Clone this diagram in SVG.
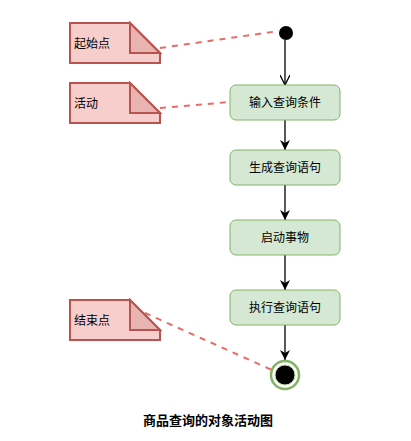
<svg xmlns="http://www.w3.org/2000/svg" width="411" height="441" viewBox="0 0 411 441">
<style>
text{font-family:"Liberation Sans","Noto Sans CJK SC",sans-serif;font-size:12px;fill:#000}
.note{fill:#f8cecc;stroke:#b85450;stroke-width:2}
.fold{fill:#e8b4b2;stroke:#b85450;stroke-width:2}
.act{fill:#d5e8d4;stroke:#82b366;stroke-width:1}
.dash{stroke:#ea6b66;stroke-width:2;stroke-dasharray:6 6;fill:none}
.flow{stroke:#000;stroke-width:1.3;fill:none}
</style>
<defs>
<marker id="open" viewBox="0 0 10 10" refX="10" refY="5" markerWidth="10" markerHeight="10" markerUnits="userSpaceOnUse" orient="auto"><path d="M0,0 L10,5 L0,10" fill="none" stroke="#000" stroke-width="1.3"/></marker>
<marker id="fill" viewBox="0 0 10 10" refX="10" refY="5" markerWidth="10" markerHeight="10" markerUnits="userSpaceOnUse" orient="auto"><path d="M0,0 L10,5 L0,10 L3,5 Z" fill="#000"/></marker>
</defs>
<g id="connectors">
<line class="dash" x1="160" y1="48" x2="279" y2="31"/>
<line class="dash" x1="160" y1="108" x2="230" y2="102"/>
<line class="dash" x1="145" y1="313" x2="272" y2="370"/>
<line class="flow" x1="285" y1="40" x2="285" y2="85" marker-end="url(#open)"/>
<line class="flow" x1="285" y1="120" x2="285" y2="150" marker-end="url(#fill)"/>
<line class="flow" x1="285" y1="185" x2="285" y2="220" marker-end="url(#fill)"/>
<line class="flow" x1="285" y1="255" x2="285" y2="290" marker-end="url(#fill)"/>
<line class="flow" x1="285" y1="325" x2="285" y2="360" marker-end="url(#fill)"/>
</g>
<g id="note-start">
<path class="note" d="M70,23 H130 L160,53 V63 H70 Z"/>
<path class="fold" d="M130,23 V53 H160 Z"/>
<text x="74" y="48">起始点</text>
</g>
<g id="note-activity">
<path class="note" d="M70,83 H130 L160,113 V123 H70 Z"/>
<path class="fold" d="M130,83 V113 H160 Z"/>
<text x="74" y="108">活动</text>
</g>
<g id="note-end">
<path class="note" d="M70,300 H130 L160,330 V340 H70 Z"/>
<path class="fold" d="M130,300 V330 H160 Z"/>
<text x="74" y="325">结束点</text>
</g>
<g id="start"><circle cx="286" cy="33" r="7" fill="#000"/></g>
<g id="a1"><rect class="act" x="230" y="85" width="110" height="35" rx="6"/><text x="285" y="107" text-anchor="middle">输入查询条件</text></g>
<g id="a2"><rect class="act" x="230" y="150" width="110" height="35" rx="6"/><text x="285" y="172" text-anchor="middle">生成查询语句</text></g>
<g id="a3"><rect class="act" x="230" y="220" width="110" height="35" rx="6"/><text x="285" y="242" text-anchor="middle">启动事物</text></g>
<g id="a4"><rect class="act" x="230" y="290" width="110" height="35" rx="6"/><text x="285" y="312" text-anchor="middle">执行查询语句</text></g>
<g id="end">
<circle cx="285" cy="375" r="14" fill="#fff" stroke="#82b366" stroke-width="2.5"/>
<circle cx="285" cy="375" r="10" fill="#000" stroke="#b9e0a5" stroke-width="1"/>
</g>
<text x="208" y="425" text-anchor="middle" style="font-size:13px;font-weight:bold">商品查询的对象活动图</text>
</svg>
